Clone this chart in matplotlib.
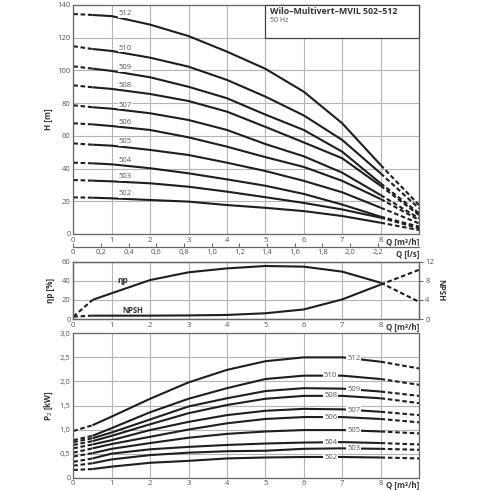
import numpy as np
import matplotlib
matplotlib.use("Agg")
import matplotlib.pyplot as plt
from matplotlib.patches import Rectangle

plt.rcParams['font.family'] = ['Open Sans', 'DejaVu Sans']

# flow points (m3/h) the curves were read at
q = [0, 0.5, 1, 2, 3, 4, 5, 6, 7, 8, 9]

pumps = ['512', '510', '509', '508', '507', '506', '505', '504', '503', '502']

# head H [m]
head = {
    '512': [134.5, 133.9, 133.2, 128.0, 121.0, 111.5, 101.0, 87.0, 67.7, 42.2, 17.7],
    '510': [114.8, 113.1, 111.9, 107.8, 102.3, 94.2, 84.0, 72.5, 57.5, 37.1, 15.7],
    '509': [102.5, 101.1, 99.7, 95.8, 90.0, 83.0, 73.0, 63.6, 50.3, 31.0, 12.7],
    '508': [90.9, 89.7, 88.7, 85.6, 81.3, 74.8, 65.5, 56.0, 46.3, 29.5, 11.6],
    '507': [78.7, 77.5, 76.6, 73.8, 69.7, 63.6, 55.0, 47.5, 37.5, 23.8, 9.6],
    '506': [67.7, 67.0, 66.0, 63.6, 59.1, 53.4, 47.0, 41.0, 32.5, 21.4, 8.6],
    '505': [55.4, 54.6, 54.0, 51.4, 48.3, 43.6, 38.5, 32.5, 25.5, 16.1, 6.5],
    '504': [43.6, 43.2, 42.6, 40.2, 37.1, 33.4, 29.5, 24.5, 18.0, 10.6, 4.5],
    '503': [33.0, 32.6, 32.2, 31.0, 28.9, 25.9, 22.5, 19.0, 15.0, 10.0, 3.5],
    '502': [22.4, 22.2, 21.8, 20.8, 19.8, 17.7, 16.0, 14.0, 11.0, 6.9, 2.4],
}

# shaft power P2 [kW]
power = {
    '512': [0.97, 1.09, 1.27, 1.64, 1.98, 2.24, 2.42, 2.50, 2.50, 2.41, 2.27],
    '510': [0.78, 0.87, 1.03, 1.36, 1.64, 1.86, 2.05, 2.12, 2.12, 2.05, 1.93],
    '509': [0.74, 0.82, 0.94, 1.21, 1.48, 1.65, 1.80, 1.86, 1.85, 1.79, 1.70],
    '508': [0.68, 0.76, 0.87, 1.11, 1.34, 1.51, 1.64, 1.70, 1.70, 1.65, 1.55],
    '507': [0.61, 0.69, 0.78, 0.99, 1.16, 1.30, 1.39, 1.43, 1.42, 1.37, 1.30],
    '506': [0.52, 0.61, 0.70, 0.85, 1.00, 1.13, 1.22, 1.26, 1.26, 1.22, 1.15],
    '505': [0.44, 0.51, 0.60, 0.72, 0.83, 0.91, 0.96, 0.99, 0.99, 0.96, 0.92],
    '504': [0.33, 0.40, 0.50, 0.59, 0.64, 0.68, 0.71, 0.73, 0.74, 0.72, 0.69],
    '503': [0.25, 0.30, 0.38, 0.47, 0.52, 0.55, 0.56, 0.60, 0.61, 0.60, 0.58],
    '502': [0.16, 0.18, 0.23, 0.31, 0.35, 0.40, 0.42, 0.43, 0.43, 0.42, 0.40],
}

# efficiency [%] and NPSH [m]
eta = [2.4, 20.0, 27.0, 40.8, 48.9, 53.0, 55.5, 54.8, 49.6, 38.0, 18.0]
npsh = [0.5, 0.7, 0.7, 0.7, 0.75, 0.85, 1.2, 2.0, 4.1, 7.2, 10.3]

ls_ticks = [0, 0.2, 0.4, 0.6, 0.8, 1.0, 1.2, 1.4, 1.6, 1.8, 2.0, 2.2]

LINE = '#1e1e1e'
GRID = '#b4b4b4'
TXT = '#555555'


def curve(ax, y, lw=1.5):
    # dashed below 0.5 and above 8 m3/h, solid in between
    ax.plot(q[:2], y[:2], color=LINE, lw=lw, ls=(0, (2.2, 1.3)))
    ax.plot(q[1:10], y[1:10], color=LINE, lw=lw, solid_capstyle='butt',
            solid_joinstyle='round')
    ax.plot(q[9:], y[9:], color=LINE, lw=lw, ls=(0, (2.2, 1.3)))


def comma(v):
    if v == 0:
        return '0'
    return ('%.1f' % v).replace('.', ',')


def style(ax, yticks, ylabels):
    ax.set_xlim(0, 9)
    ax.set_xticks(range(10))
    ax.set_xticklabels([str(i) for i in range(9)] + [''])
    ax.set_yticks(yticks)
    ax.set_yticklabels(ylabels)
    ax.grid(True, color=GRID, lw=0.8)
    ax.set_axisbelow(True)
    ax.tick_params(length=0, pad=2, labelsize=5.5, colors=TXT)
    for s in ax.spines.values():
        s.set_color('#666666')
        s.set_linewidth(0.9)
    ax.annotate('Q [m³/h]', xy=(1, 0), xycoords='axes fraction',
                xytext=(0, -2.5), textcoords='offset points',
                ha='right', va='top', fontsize=5.8, color='#333333',
                fontweight='bold')


fig = plt.figure(figsize=(4.9, 4.9), dpi=100)
L = 73.3 / 490
W = (419 - 73.3) / 490
ax_h = fig.add_axes([L, 1 - 234 / 490, W, (234 - 5) / 490])
ax_e = fig.add_axes([L, 1 - 319 / 490, W, (319 - 261.7) / 490])
ax_p = fig.add_axes([L, 1 - 477.7 / 490, W, (477.7 - 333.3) / 490])
ax_ls = fig.add_axes([L, 1 - 246.5 / 490, W, 0.0001])

# --- head panel
for p in pumps:
    curve(ax_h, head[p])
    ax_h.text(1.35, np.interp(1.35, q, head[p]) + 3.2, p, fontsize=5.5,
              color=TXT, ha='center', va='center',
              bbox=dict(facecolor='white', edgecolor='none', pad=0.3))
ax_h.set_ylim(0, 140)
style(ax_h, range(0, 141, 20), [str(v) for v in range(0, 141, 20)])
ax_h.set_ylabel('H [m]', fontsize=5.8, color='#333333', fontweight='bold',
                labelpad=3)
ax_h.add_patch(Rectangle((5, 120), 4, 20, facecolor='white',
                         edgecolor='#444444', lw=0.9, zorder=3, clip_on=False))
ax_h.text(5.12, 136.0, 'Wilo–Multivert–MVIL 502–512', fontsize=6.3,
          fontweight='bold', color='#333333', va='center', zorder=4)
ax_h.text(5.12, 130.8, '50 Hz', fontsize=5, color=TXT, va='center', zorder=4)

# --- l/s scale
ax_ls.set_xlim(0, 9 / 3.6)
ax_ls.set_ylim(0, 1)
for k in ['top', 'left', 'right']:
    ax_ls.spines[k].set_visible(False)
ax_ls.spines['bottom'].set_color('#666666')
ax_ls.spines['bottom'].set_linewidth(0.9)
ax_ls.set_yticks([])
ax_ls.set_xticks(ls_ticks)
ax_ls.set_xticklabels([comma(v) for v in ls_ticks])
ax_ls.tick_params(axis='x', direction='in', length=3, width=0.7,
                  color='#666666', labelsize=5.5, labelcolor=TXT, pad=2)
ax_ls.annotate('Q [l/s]', xy=(1, 0), xycoords='axes fraction',
               xytext=(0, -2.5), textcoords='offset points',
               ha='right', va='top', fontsize=5.8, color='#333333',
               fontweight='bold')

# --- efficiency / NPSH panel
curve(ax_e, eta)
ax_e.set_ylim(0, 60)
style(ax_e, [0, 20, 40, 60], ['0', '20', '40', '60'])
ax_e.set_ylabel('ηp [%]', fontsize=5.8, color='#333333', fontweight='bold',
                labelpad=5)
ax_e.text(1.3, 39.8, 'ηp', fontsize=6, color='#333333', fontweight='bold',
          ha='center', va='center')
ax_n = ax_e.twinx()
ax_n.set_ylim(0, 12)
curve(ax_n, npsh)
ax_n.set_yticks([0, 4, 8, 12])
ax_n.tick_params(length=3, width=0.7, color='#666666', labelsize=5.5,
                 colors=TXT, pad=1.5)
ax_n.set_ylabel('NPSH', fontsize=5.8, color='#333333', fontweight='bold',
                rotation=270, labelpad=8)
for s in ax_n.spines.values():
    s.set_color('#666666')
    s.set_linewidth(0.9)
ax_n.text(1.55, 1.7, 'NPSH', fontsize=5.5, color='#333333',
          fontweight='bold', ha='center', va='center')

# --- power panel
lab_x = [7.3, 6.7, 7.3, 6.7, 7.3, 6.7, 7.3, 6.7, 7.3, 6.7]
for p, lx in zip(pumps, lab_x):
    curve(ax_p, power[p])
    ax_p.text(lx, np.interp(lx, q, power[p]), p, fontsize=5.5, color=TXT,
              ha='center', va='center', zorder=5,
              bbox=dict(facecolor='white', edgecolor='none', pad=0.6))
ax_p.set_ylim(0, 3)
pt = [0, 0.5, 1.0, 1.5, 2.0, 2.5, 3.0]
style(ax_p, pt, [comma(v) for v in pt])
ax_p.set_ylabel('P$_2$ [kW]', fontsize=5.8, color='#333333',
                fontweight='bold', labelpad=3)

fig.savefig('out.png', dpi=100)
